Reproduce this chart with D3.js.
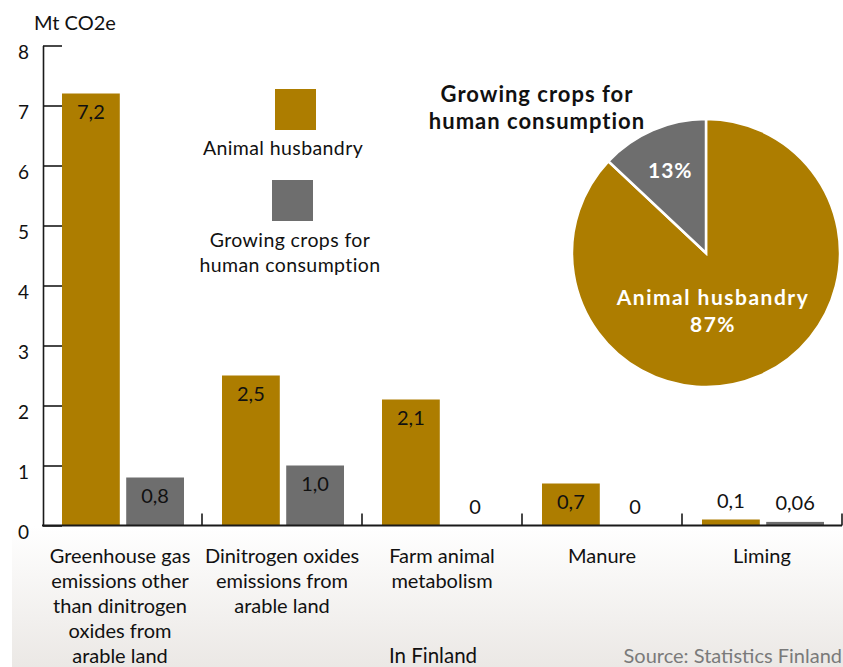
<!DOCTYPE html>
<html><head><meta charset="utf-8">
<script src="https://cdn.jsdelivr.net/npm/d3@7"></script>
<style>
body{margin:0;background:#fff;}
svg text{font-family:Lato,"Open Sans",sans-serif;fill:#111;}
</style>
</head><body>
<svg id="chart" width="843" height="667"></svg>
<script>
// ---- data ----
const categories = ["Greenhouse gas\nemissions other\nthan dinitrogen\noxides from\narable land",
  "Dinitrogen oxides\nemissions from\narable land",
  "Farm animal\nmetabolism",
  "Manure",
  "Liming"];
const seriesNames = ["Animal husbandry", "Growing crops for\nhuman consumption"];
const animalValues = [7.2, 2.5, 2.1, 0.7, 0.1];
const cropValues = [0.8, 1.0, 0, 0, 0.06];
const animalLabels = ["7,2", "2,5", "2,1", "0,7", "0,1"];
const cropLabels = ["0,8", "1,0", "0", "0", "0,06"];
const yTicks = [0, 1, 2, 3, 4, 5, 6, 7, 8];
const pieNames = ["Animal husbandry", "Growing crops for human consumption"];
const pieShares = [87, 13];
const pieLabels = ["87%", "13%"];
const colors = ["#ad7d00", "#6e6e6e"];

const svg = d3.select("#chart");

// background gradient below the axis
const defs = svg.append("defs");
const grad = defs.append("linearGradient").attr("id","bg").attr("x1",0).attr("x2",0).attr("y1",0).attr("y2",1);
grad.append("stop").attr("offset","0%").attr("stop-color","#ffffff");
grad.append("stop").attr("offset","100%").attr("stop-color","#ebe8e5");
svg.append("rect").attr("x",12).attr("y",526).attr("width",831).attr("height",141).attr("fill","url(#bg)");

// scales
const x0 = d3.scaleBand().domain(d3.range(categories.length)).range([42, 842]).padding(0);
const x1 = d3.scaleBand().domain([0,1]).range([20, 142]).paddingInner(0.1);
const y = d3.scaleLinear().domain([0, 8]).range([525.5, 45.5]);

const rows = categories.map((c,i)=>({i, vals:[
  {s:0, v:animalValues[i], lab:animalLabels[i]},
  {s:1, v:cropValues[i], lab:cropLabels[i]}]}));

// bars
const g = svg.append("g");
const grp = g.selectAll("g.grp").data(rows).join("g").attr("transform",d=>`translate(${x0(d.i)},0)`);
grp.selectAll("rect").data(d=>d.vals).join("rect")
  .attr("x",d=>x1(d.s)).attr("width",x1.bandwidth())
  .attr("y",d=>y(d.v)).attr("height",d=>y(0)-y(d.v))
  .attr("fill",d=>colors[d.s]);
grp.selectAll("text.val").data(d=>d.vals).join("text").attr("class","val")
  .attr("x",d=>x1(d.s)+x1.bandwidth()/2)
  .attr("y",d=> d.v >= 0.5 ? y(d.v)+18 : y(d.v)-19)
  .attr("dy","0.35em")
  .attr("text-anchor","middle").attr("font-size",20)
  .text(d=>d.lab);

// y axis
const yAxis = d3.axisLeft(y).tickValues(yTicks).tickFormat(d3.format("d")).tickSizeInner(-19).tickSizeOuter(0).tickPadding(14);
const ya = svg.append("g").attr("transform","translate(43,0)").call(yAxis);
ya.select(".domain").attr("stroke","#1a1a1a").attr("stroke-width",1.6);
ya.selectAll(".tick line").attr("stroke","#1a1a1a").attr("stroke-width",1.6);
ya.selectAll(".tick text").attr("font-size",19).attr("fill","#111").attr("font-family","Lato,sans-serif").attr("transform","translate(0,7)");

// x axis baseline and category separator ticks
svg.append("line").attr("x1",42).attr("x2",842).attr("y1",y(0)).attr("y2",y(0)).attr("stroke","#1a1a1a").attr("stroke-width",2);
const seps = d3.range(1, categories.length+1).map(i=> i<categories.length ? x0(i) : x0(i-1)+x0.bandwidth());
svg.selectAll("line.sep").data(seps).join("line").attr("class","sep")
  .attr("x1",d=>d).attr("x2",d=>d).attr("y1",y(0)).attr("y2",y(0)-12)
  .attr("stroke","#1a1a1a").attr("stroke-width",1.6);

// category labels
const cl = svg.selectAll("text.cat").data(categories).join("text").attr("class","cat")
  .attr("text-anchor","middle").attr("font-size",20);
cl.each(function(c,i){
  const t = d3.select(this);
  c.split("\n").forEach((line,k)=>{
    t.append("tspan").attr("x", x0(i)+x0.bandwidth()/2 - (i===0?2:0)).attr("y", 563 + k*25).text(line);
  });
});

// axis title & notes
svg.append("text").attr("x",34).attr("y",30).attr("font-size",20).text("Mt CO2e");
svg.append("text").attr("x",433).attr("y",663).attr("text-anchor","middle").attr("font-size",20.5).text("In Finland");
svg.append("text").attr("x",842).attr("y",663).attr("text-anchor","end").attr("font-size",20).style("fill","#7a7a7a").text("Source: Statistics Finland");

// legend
const leg = svg.append("g");
const legPos = [{sx:275, sy:89, tx:283, ty:155}, {sx:272, sy:180, tx:290, ty:247}];
seriesNames.forEach((n,i)=>{
  leg.append("rect").attr("x",legPos[i].sx).attr("y",legPos[i].sy).attr("width",41).attr("height",41).attr("fill",colors[i]);
  const t = leg.append("text").attr("text-anchor","middle").attr("font-size",19.5).attr("letter-spacing",0.4);
  n.split("\n").forEach((line,k)=>t.append("tspan").attr("x",legPos[i].tx).attr("y",legPos[i].ty+k*25).text(line));
});

// pie
const cx = 706, cy = 253, r = 134;
const pie = d3.pie().sort(null).value(d=>d)(pieShares);
const arc = d3.arc().innerRadius(0).outerRadius(r);
const pg = svg.append("g").attr("transform",`translate(${cx},${cy})`);
pg.selectAll("path").data(pie).join("path").attr("d",arc)
  .attr("fill",(d,i)=>colors[i]).attr("stroke","#fff").attr("stroke-width",2.5);
const labArc = d3.arc().innerRadius(90).outerRadius(90);
// small slice label at centroid
const c1 = labArc.centroid(pie[1]);
pg.append("text").attr("x",c1[0]).attr("y",c1[1]).attr("dy","0.35em").attr("text-anchor","middle")
  .attr("font-size",21).attr("font-weight","bold").attr("letter-spacing",1).style("fill","#fff").text(pieLabels[1]);
// big slice label
const bl = pg.append("text").attr("text-anchor","middle").attr("font-size",21).attr("font-weight","bold").attr("letter-spacing",1.5).style("fill","#fff");
bl.append("tspan").attr("x",7).attr("y",52).text(pieNames[0]);
bl.append("tspan").attr("x",7).attr("y",79).text(pieLabels[0]);
// pie title
const pt = svg.append("text").attr("text-anchor","middle").attr("font-size",22).attr("font-weight","bold").attr("letter-spacing",1);
pt.append("tspan").attr("x",537).attr("y",102).text("Growing crops for");
pt.append("tspan").attr("x",537).attr("y",129).text("human consumption");
</script>
</body></html>
